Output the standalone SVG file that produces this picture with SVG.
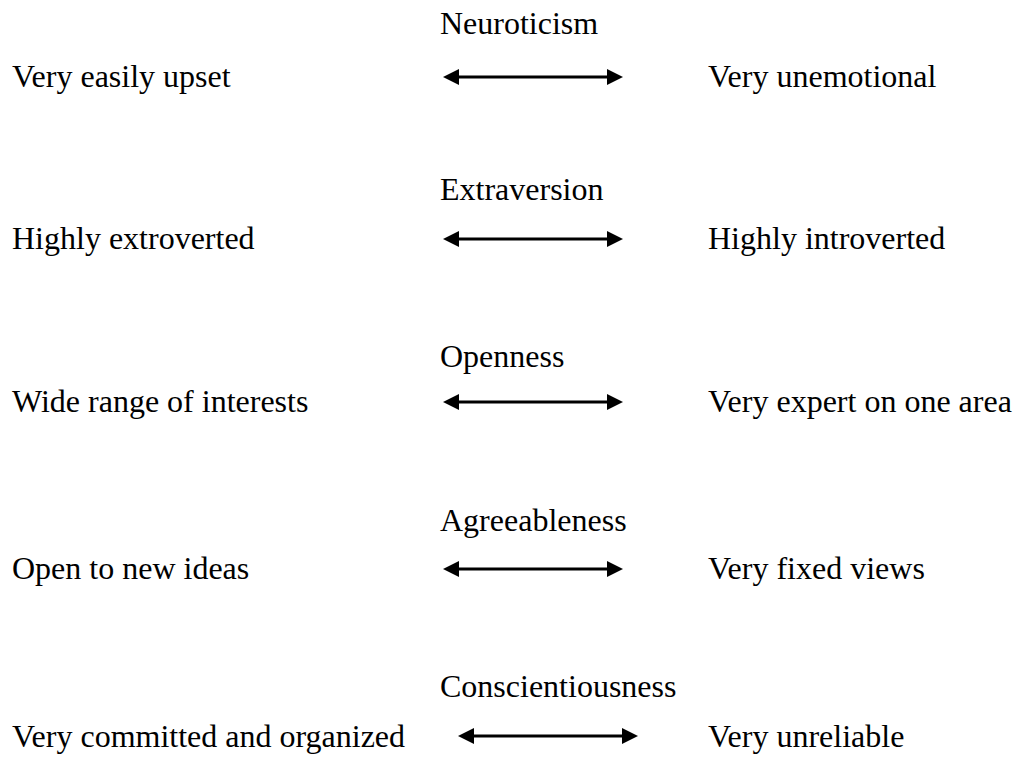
<svg xmlns="http://www.w3.org/2000/svg" width="1021" height="760" viewBox="0 0 1021 760">
  <style>
    text { font-family: "Liberation Serif", "Times New Roman", serif; font-size: 32px; fill: #000; }
    .arrow { stroke: #000; stroke-width: 3; fill: none; }
    .head { fill: #000; }
  </style>
  <rect width="1021" height="760" fill="#fff"/>
  <defs>
    <g id="dbl">
      <line class="arrow" x1="12" y1="0" x2="168" y2="0"/>
      <polygon class="head" points="0,0 16,-8 16,8"/>
      <polygon class="head" points="180,0 164,-8 164,8"/>
    </g>
  </defs>
  <g id="neuroticism">
    <text x="440" y="34">Neuroticism</text>
    <text x="12" y="87">Very easily upset</text>
    <text x="708" y="87">Very unemotional</text>
  </g>
  <g id="extraversion">
    <text x="440" y="200">Extraversion</text>
    <text x="12" y="249">Highly extroverted</text>
    <text x="708" y="249">Highly introverted</text>
  </g>
  <g id="openness">
    <text x="440" y="367">Openness</text>
    <text x="12" y="412">Wide range of interests</text>
    <text x="708" y="412">Very expert on one area</text>
  </g>
  <g id="agreeableness">
    <text x="440" y="531">Agreeableness</text>
    <text x="12" y="579">Open to new ideas</text>
    <text x="708" y="579">Very fixed views</text>
  </g>
  <g id="conscientiousness">
    <text x="440" y="697">Conscientiousness</text>
    <text x="12" y="747">Very committed and organized</text>
    <text x="708" y="747">Very unreliable</text>
  </g>
  <g id="connectors">
    <use href="#dbl" x="443" y="77"/>
    <use href="#dbl" x="443" y="239"/>
    <use href="#dbl" x="443" y="402"/>
    <use href="#dbl" x="443" y="569"/>
    <use href="#dbl" x="458" y="736"/>
  </g>
</svg>
